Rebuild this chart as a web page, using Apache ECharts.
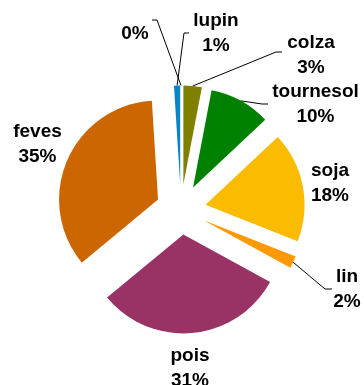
<!DOCTYPE html>
<html>
<head>
<meta charset="utf-8">
<style>
  html, body { margin: 0; padding: 0; background: #ffffff; }
  #chart { width: 364px; height: 385px; }
</style>
<script src="https://cdn.jsdelivr.net/npm/echarts@6/dist/echarts.min.js"></script>
</head>
<body>
<div id="chart"></div>
<script>
// Crop shares (%), in drawing order starting at 12 o'clock, clockwise
const crops  = ['', 'colza', 'tournesol', 'soja', 'lin', 'pois', 'feves', 'lupin'];
const shares = [0, 3, 10, 18, 2, 31, 35, 1];
const colors = ['#0A84C8', '#808000', '#008000', '#FABB00', '#FF9900', '#993366', '#CC6600', '#0A84C8'];

// Pie geometry
const CX = 181, CY = 209.5, R = 99, EXPLODE = 25;

// Label placement: centre of each text block and the elbow of its leader line (null = no line)
const labelCentre = [[135, 34], [311, 55], [315.5, 104], [330, 183], [347, 289], [190, 368], [37.5, 144.5], [216, 33.5]];
const labelElbow = [
  [[152, 20], [157, 20]],
  [[282, 52], [276, 52]],
  [[268, 104], [262, 104]],
  null,
  [[332, 289], [325, 289]],
  null,
  null,
  [[189, 33], [184, 33]]
];

const total = shares.reduce((a, b) => a + b, 0);
// Point on the outer edge of each exploded slice, at its bisector
const edgePoint = [];
let cum = 0;
shares.forEach(v => {
  const mid = (cum + v / 2) / total * 2 * Math.PI;
  cum += v;
  edgePoint.push([CX + (R + EXPLODE) * Math.sin(mid), CY - (R + EXPLODE) * Math.cos(mid)]);
});

const baseSeries = {
  type: 'pie',
  center: [CX, CY],
  radius: R,
  startAngle: 90,
  clockwise: true,
  avoidLabelOverlap: false,
  minShowLabelAngle: 0,
  emphasis: { disabled: true },
  silent: true
};

// Exploded slices
const sliceSeries = Object.assign({}, baseSeries, {
  selectedMode: 'multiple',
  selectedOffset: EXPLODE,
  itemStyle: { borderWidth: 0 },
  label: { show: false },
  labelLine: { show: false },
  data: crops.map((name, i) => ({
    name: name,
    value: shares[i],
    selected: true,
    itemStyle: { color: colors[i] }
  }))
});

// Same shares again, invisible, carrying the data labels and leader lines
const labelSeries = Object.assign({}, baseSeries, {
  itemStyle: { color: 'rgba(0,0,0,0)', borderWidth: 0 },
  label: {
    show: true,
    position: 'outside',
    fontFamily: '"Liberation Sans", Arial, sans-serif',
    fontWeight: 'bold',
    fontSize: 19,
    lineHeight: 25,
    color: '#000000',
    formatter: p => (p.name ? p.name + '\n' : '') + Math.round(p.percent) + '%'
  },
  labelLine: {
    lineStyle: { color: '#000000', width: 1 }
  },
  labelLayout: params => {
    const i = params.dataIndex;
    const out = {
      x: labelCentre[i][0],
      y: labelCentre[i][1],
      align: 'center',
      verticalAlign: 'middle'
    };
    if (labelElbow[i]) {
      out.labelLinePoints = [labelElbow[i][0], labelElbow[i][1], edgePoint[i]];
    }
    return out;
  },
  data: crops.map((name, i) => ({
    name: name,
    value: shares[i],
    labelLine: { show: labelElbow[i] !== null }
  }))
});

const chart = echarts.init(document.getElementById('chart'), null, { renderer: 'canvas' });
chart.setOption({
  animation: false,
  backgroundColor: '#ffffff',
  series: [sliceSeries, labelSeries]
});
</script>
</body>
</html>
